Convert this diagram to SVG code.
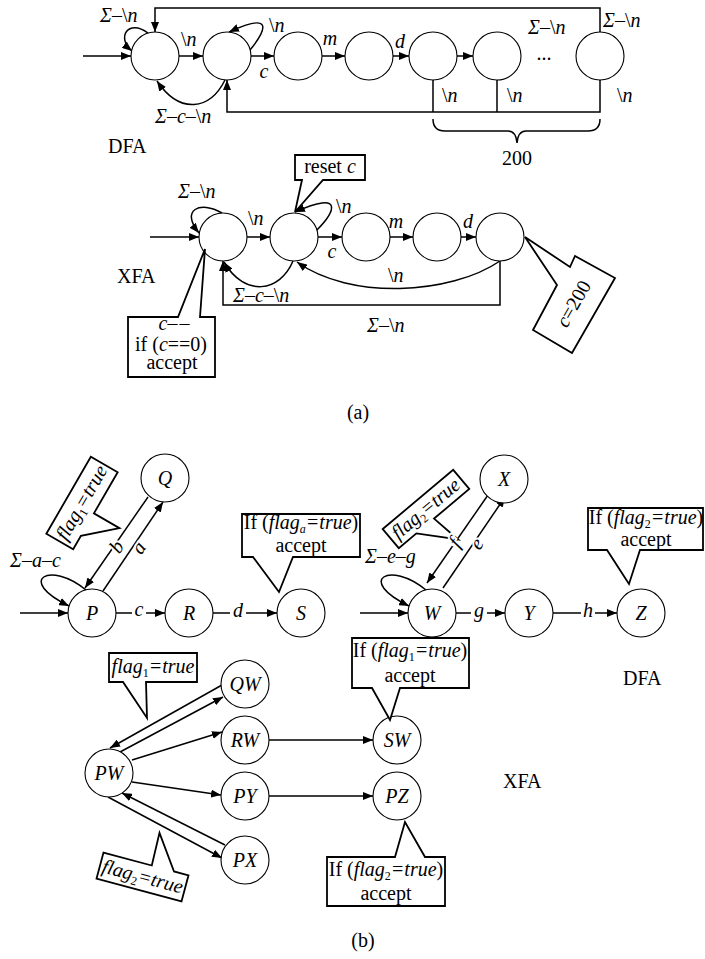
<svg xmlns="http://www.w3.org/2000/svg" width="705" height="959" viewBox="0 0 705 959">
<defs>
<marker id="ah" markerWidth="10" markerHeight="8" refX="10" refY="4" orient="auto" markerUnits="userSpaceOnUse"><path d="M0,0 L10,4 L0,8 z" fill="#000"/></marker>
<style>
text{font-family:"Liberation Serif","Times New Roman",serif;font-size:20px;fill:#000}
.i{font-style:italic}
.m{text-anchor:middle}
.nd{fill:#fff;stroke:#000;stroke-width:1.1}
.e{fill:none;stroke:#000;stroke-width:1.5}
.ar{marker-end:url(#ah)}
.cb{fill:#fff;stroke:#000;stroke-width:1.8}
.h{paint-order:stroke;stroke:#fff;stroke-width:4px}
.s{font-size:12px}
</style>
</defs>
<rect width="705" height="959" fill="#fff"/>

<g id="connectors" class="e">
<path class="ar" d="M83 56H131"/>
<path class="ar" d="M179 56H203"/>
<path class="ar" d="M251 56H274"/>
<path class="ar" d="M322 56H345"/>
<path class="ar" d="M393 56H409"/>
<path class="ar" d="M457 56H473"/>
<path class="ar" d="M600 32V8H155V32"/>
<path class="ar" d="M600 80V112H227V80"/>
<path d="M433 80V112M497 80V112"/>
<path class="ar" d="M148 33C128 18 116 38 132 51"/>
<path class="ar" d="M250 50C268 28 272 12 229 32"/>
<path class="ar" d="M225 80C210 110 180 115 157 81"/>
<path d="M433 119Q433 131 445 131H508Q516 131 517 143Q518 131 526 131H588Q600 131 600 119"/>
<path class="ar" d="M150 237H199"/>
<path class="ar" d="M247 237H270"/>
<path class="ar" d="M318 237H342"/>
<path class="ar" d="M390 237H413"/>
<path class="ar" d="M461 237H476"/>
<path class="ar" d="M222 213C200 200 180 210 199 233"/>
<path class="ar" d="M316 231C335 212 345 190 295 212"/>
<path class="ar" d="M500 261V305H223V261"/>
<path class="ar" d="M293 261C280 292 245 298 224 262"/>
<path class="ar" d="M500 261C450 295 350 300 297 262"/>
<path class="ar" d="M20 613H68"/>
<path d="M116 613H132"/><path class="ar" d="M146 613H165"/>
<path d="M213 613H230"/><path class="ar" d="M246 613H277"/>
<path class="ar" d="M86 590C50 560 15 580 69 606"/>
<path class="ar" d="M148 497L85 588"/>
<path class="ar" d="M103 591L163 502"/>
<path class="ar" d="M360 613H408"/>
<path d="M456 613H471"/><path class="ar" d="M487 613H505"/>
<path d="M553 613H581"/><path class="ar" d="M595 613H617"/>
<path class="ar" d="M426 590C390 560 355 580 409 606"/>
<path class="ar" d="M488 495L427 583"/>
<path class="ar" d="M443 588L505 497"/>
<path class="ar" d="M222 685L110 748"/>
<path class="ar" d="M120 752L223 697"/>
<path class="ar" d="M132 760L222 732"/>
<path class="ar" d="M132 782L221 795"/>
<path class="ar" d="M225 845L122 793"/>
<path class="ar" d="M108 797L222 858"/>
<path class="ar" d="M269 740H373"/>
<path class="ar" d="M269 796H373"/>
</g>

<g id="dfa1"><circle class="nd" cx="155" cy="56" r="24"/></g>
<g id="dfa2"><circle class="nd" cx="227" cy="56" r="24"/></g>
<g id="dfa3"><circle class="nd" cx="298" cy="56" r="24"/></g>
<g id="dfa4"><circle class="nd" cx="369" cy="56" r="24"/></g>
<g id="dfa5"><circle class="nd" cx="433" cy="56" r="24"/></g>
<g id="dfa6"><circle class="nd" cx="497" cy="56" r="24"/></g>
<g id="dfa7"><circle class="nd" cx="600" cy="56" r="24"/></g>

<g id="xfa1"><circle class="nd" cx="223" cy="237" r="24"/></g>
<g id="xfa2"><circle class="nd" cx="294" cy="237" r="24"/></g>
<g id="xfa3"><circle class="nd" cx="366" cy="237" r="24"/></g>
<g id="xfa4"><circle class="nd" cx="437" cy="237" r="24"/></g>
<g id="xfa5"><circle class="nd" cx="500" cy="237" r="24"/></g>

<g id="P"><circle class="nd" cx="92" cy="613" r="24"/><text class="i m" x="92" y="620">P</text></g>
<g id="Q"><circle class="nd" cx="165" cy="478" r="24"/><text class="i m" x="165" y="485">Q</text></g>
<g id="R"><circle class="nd" cx="189" cy="613" r="24"/><text class="i m" x="189" y="620">R</text></g>
<g id="S"><circle class="nd" cx="301" cy="613" r="24"/><text class="i m" x="301" y="620">S</text></g>
<g id="W"><circle class="nd" cx="432" cy="613" r="24"/><text class="i m" x="432" y="620">W</text></g>
<g id="X"><circle class="nd" cx="504" cy="479" r="24"/><text class="i m" x="504" y="486">X</text></g>
<g id="Y"><circle class="nd" cx="529" cy="613" r="24"/><text class="i m" x="529" y="620">Y</text></g>
<g id="Z"><circle class="nd" cx="641" cy="613" r="24"/><text class="i m" x="641" y="620">Z</text></g>
<g id="PW"><circle class="nd" cx="109" cy="773" r="24"/><text class="i m" x="109" y="780">PW</text></g>
<g id="QW"><circle class="nd" cx="245" cy="684" r="24"/><text class="i m" x="245" y="691">QW</text></g>
<g id="RW"><circle class="nd" cx="245" cy="740" r="24"/><text class="i m" x="245" y="747">RW</text></g>
<g id="PY"><circle class="nd" cx="245" cy="796" r="24"/><text class="i m" x="245" y="803">PY</text></g>
<g id="PX"><circle class="nd" cx="245" cy="860" r="24"/><text class="i m" x="245" y="867">PX</text></g>
<g id="SW"><circle class="nd" cx="397" cy="740" r="24"/><text class="i m" x="397" y="747">SW</text></g>
<g id="PZ"><circle class="nd" cx="397" cy="796" r="24"/><text class="i m" x="397" y="803">PZ</text></g>

<g id="callout-reset">
<path class="cb" d="M295 155H365V180H323L295 212L302 180H295Z"/>
<text class="m" x="330" y="173">reset <tspan class="i">c</tspan></text>
</g>
<g id="callout-cdec">
<path class="cb" d="M128 317H178L205 249L200 317H215V377H128Z"/>
<text class="m" x="175" y="330"><tspan class="i">c</tspan><tspan letter-spacing="2">––</tspan></text>
<text class="m" x="171" y="351">if (<tspan class="i">c</tspan>==0)</text>
<text class="m" x="172" y="369">accept</text>
</g>
<g id="callout-c200">
<path class="cb" d="M525 237L570 267L575 256L615 278L572 353L533 330L557 285Z"/>
<text class="m" transform="translate(574,304) rotate(-60)" y="6"><tspan class="i">c</tspan>=200</text>
</g>
<g id="callout-flag1a" transform="translate(82,503) rotate(-60)">
<path class="cb" d="M-44.5 -15.5H44.5V15.5H-3L-3 45L-29 15.5H-44.5Z"/>
<text class="m" x="0" y="6"><tspan class="i">flag</tspan><tspan class="s" dy="4">1</tspan><tspan class="i" dy="-4">=true</tspan></text>
</g>
<g id="callout-S">
<path class="cb" d="M242 514H360V557H293L279 592L253 557H242Z"/>
<text class="m" x="301" y="529">If (<tspan class="i">flag</tspan><tspan class="i s" dy="4">a</tspan><tspan class="i" dy="-4">=true</tspan>)</text>
<text class="m" x="301" y="552">accept</text>
</g>
<g id="callout-flag2a" transform="translate(426,509) rotate(-40)">
<path class="cb" d="M-46 -12.5H46V12.5H0L5 44L-23 12.5H-46Z"/>
<text class="m" x="0" y="6"><tspan class="i">flag</tspan><tspan class="s" dy="4">2</tspan><tspan class="i" dy="-4">=true</tspan></text>
</g>
<g id="callout-Z">
<path class="cb" d="M588 508H703V550H640L629 584L607 550H588Z"/>
<text class="m" x="646" y="524">If (<tspan class="i">flag</tspan><tspan class="s" dy="4">2</tspan><tspan class="i" dy="-4">=true</tspan>)</text>
<text class="m" x="646" y="546">accept</text>
</g>
<g id="callout-flag1b">
<path class="cb" d="M109 653H197V682H146L147 718L123 682H109Z"/>
<text class="m" x="153" y="673"><tspan class="i">flag</tspan><tspan class="s" dy="4">1</tspan><tspan class="i" dy="-4">=true</tspan></text>
</g>
<g id="callout-flag2b" transform="translate(142.5,877) rotate(15)">
<path class="cb" d="M-44 -13.5H6L5 -47L29 -13.5H44V13.5H-44Z"/>
<text class="m" x="0" y="6"><tspan class="i">flag</tspan><tspan class="s" dy="4">2</tspan><tspan class="i" dy="-4">=true</tspan></text>
</g>
<g id="callout-SW">
<path class="cb" d="M352 638H469V688H400L390 720L372 688H352Z"/>
<text class="m" x="410" y="657">If (<tspan class="i">flag</tspan><tspan class="s" dy="4">1</tspan><tspan class="i" dy="-4">=true</tspan>)</text>
<text class="m" x="410" y="682">accept</text>
</g>
<g id="callout-PZ">
<path class="cb" d="M327 857H395L405 822L425 857H445V906H327Z"/>
<text class="m" x="386" y="876">If (<tspan class="i">flag</tspan><tspan class="s" dy="4">2</tspan><tspan class="i" dy="-4">=true</tspan>)</text>
<text class="m" x="386" y="900">accept</text>
</g>

<g id="labels">
<text x="100" y="22"><tspan class="i">Σ</tspan>–\<tspan class="i">n</tspan></text>
<text x="181" y="46">\<tspan class="i">n</tspan></text>
<text x="269" y="32">\<tspan class="i">n</tspan></text>
<text class="i m" x="264" y="78">c</text>
<text class="i m" x="330" y="45">m</text>
<text class="i m" x="400" y="48">d</text>
<text x="155" y="123"><tspan class="i">Σ</tspan>–<tspan class="i">c</tspan>–\<tspan class="i">n</tspan></text>
<text x="528" y="34"><tspan class="i">Σ</tspan>–\<tspan class="i">n</tspan></text>
<text x="603" y="27"><tspan class="i">Σ</tspan>–\<tspan class="i">n</tspan></text>
<text class="m" x="544" y="60">...</text>
<text x="442" y="102">\<tspan class="i">n</tspan></text>
<text x="507" y="102">\<tspan class="i">n</tspan></text>
<text x="617" y="102">\<tspan class="i">n</tspan></text>
<text class="m" x="517" y="165">200</text>
<text x="108" y="153">DFA</text>

<text x="178" y="198"><tspan class="i">Σ</tspan>–\<tspan class="i">n</tspan></text>
<text x="248" y="225">\<tspan class="i">n</tspan></text>
<text x="336" y="213">\<tspan class="i">n</tspan></text>
<text class="i m" x="332" y="258">c</text>
<text class="i m" x="396" y="228">m</text>
<text class="i m" x="468" y="228">d</text>
<text x="388" y="282">\<tspan class="i">n</tspan></text>
<text x="233" y="302"><tspan class="i">Σ</tspan>–<tspan class="i">c</tspan>–\<tspan class="i">n</tspan></text>
<text x="367" y="332"><tspan class="i">Σ</tspan>–\<tspan class="i">n</tspan></text>
<text x="117" y="283">XFA</text>
<text class="m" x="358" y="419">(a)</text>

<text x="10" y="567"><tspan class="i">Σ</tspan>–<tspan class="i">a</tspan>–<tspan class="i">c</tspan></text>
<text class="i m" x="139" y="616">c</text>
<text class="i m" x="238" y="617">d</text>
<text class="i m h" transform="translate(117,547) rotate(-56)" y="6">b</text>
<text class="i m h" transform="translate(139,548) rotate(-56)" y="6">a</text>
<text x="365" y="563"><tspan class="i">Σ</tspan>–<tspan class="i">e</tspan>–<tspan class="i">g</tspan></text>
<text class="i m" x="479" y="617">g</text>
<text class="i m" x="588" y="617">h</text>
<text class="i m h" transform="translate(455,543) rotate(-56)" y="6">f</text>
<text class="i m h" transform="translate(477,544) rotate(-56)" y="6">e</text>
<text x="623" y="685">DFA</text>
<text x="503" y="788">XFA</text>
<text class="m" x="363" y="947">(b)</text>
</g>
</svg>
